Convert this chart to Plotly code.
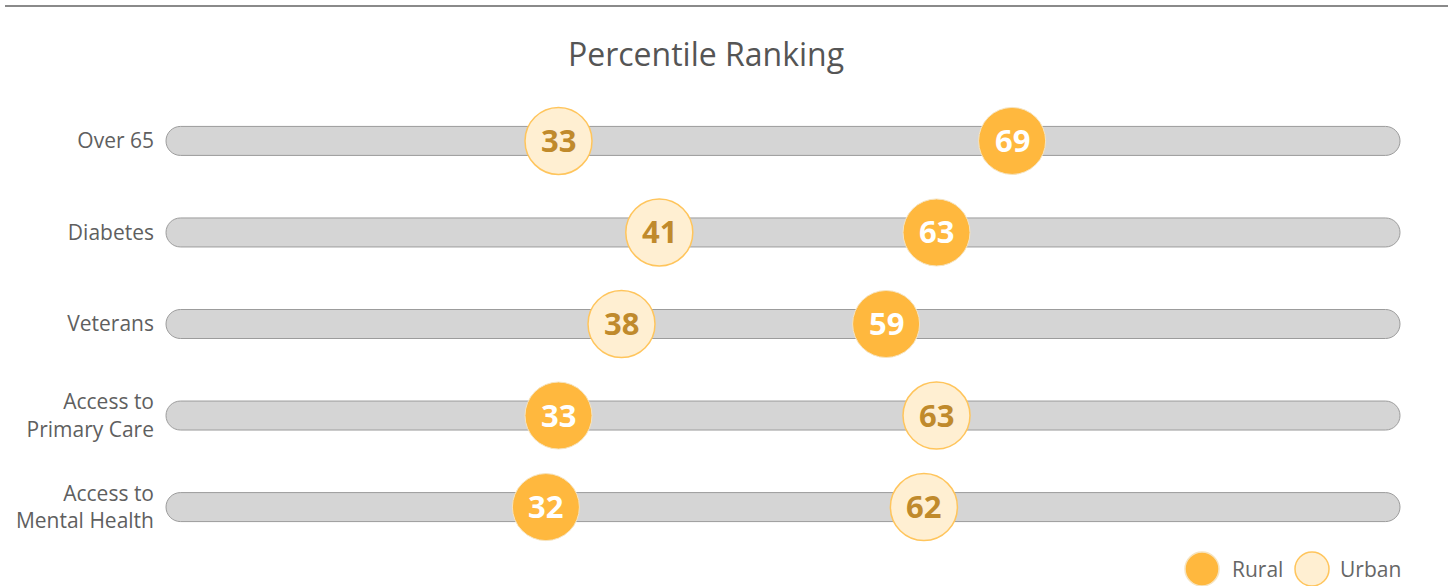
import plotly.graph_objects as go

# ---- data ----
categories = ["Over 65", "Diabetes", "Veterans", "Access to<br>Primary Care", "Access to<br>Mental Health"]
rural = [69, 63, 59, 33, 32]
urban = [33, 41, 38, 63, 62]
series_names = ["Rural", "Urban"]
title_text = "Percentile Ranking"

# ---- styling ----
W, H = 1448, 586
ML, MR, MT, MB = 166, 48, 86, 24
RURAL_FILL = "#FFB83E"
RURAL_LINE = "#F6E4C0"
URBAN_FILL = "#FFEFD2"
URBAN_LINE = "#FFC55C"
URBAN_TEXT = "#C08A2C"
FONT = "Open Sans"

plot_w = W - ML - MR
plot_h = H - MT - MB
n = len(categories)
yrange = [n - 1 + 0.6, -0.6]
px_per_y = plot_h / (yrange[0] - yrange[1])
rows = list(range(n))

fig = go.Figure()

# tracks (rounded bars behind points)
r = 14.5
rx = r / plot_w
ry = r / px_per_y
k = 0.5523
shapes = []
for yi in rows:
    x0, x1 = 0.0, 1.0
    t, b = yi - ry, yi + ry
    path = (
        f"M {x0+rx},{t} L {x1-rx},{t} "
        f"C {x1-rx+k*rx},{t} {x1},{yi-k*ry} {x1},{yi} "
        f"C {x1},{yi+k*ry} {x1-rx+k*rx},{b} {x1-rx},{b} "
        f"L {x0+rx},{b} "
        f"C {x0+rx-k*rx},{b} {x0},{yi+k*ry} {x0},{yi} "
        f"C {x0},{yi-k*ry} {x0+rx-k*rx},{t} {x0+rx},{t} Z"
    )
    shapes.append(dict(type="path", path=path, xref="paper", yref="y",
                       fillcolor="#D5D5D5", line=dict(color="#9C9C9C", width=1),
                       layer="below"))


def px_to_paper_x(p):
    return (p - ML) / plot_w


def px_to_paper_y(p):
    return (H - MB - p) / plot_h


# top separator line
shapes.append(dict(type="line", xref="paper", yref="paper",
                   x0=px_to_paper_x(5), x1=px_to_paper_x(W), y0=px_to_paper_y(6), y1=px_to_paper_y(6),
                   line=dict(color="#8A8A8A", width=2)))

fig.add_trace(go.Scatter(
    x=urban, y=rows, mode="markers", name=series_names[1],
    marker=dict(size=67, color=URBAN_FILL, line=dict(color=URBAN_LINE, width=1.5)),
    cliponaxis=False, showlegend=False,
))
fig.add_trace(go.Scatter(
    x=rural, y=rows, mode="markers", name=series_names[0],
    marker=dict(size=67, color=RURAL_FILL, line=dict(color=RURAL_LINE, width=1)),
    cliponaxis=False, showlegend=False,
))

annotations = []
# value labels centred in the bubbles
for vals, col in ((urban, URBAN_TEXT), (rural, "white")):
    for v, yi in zip(vals, rows):
        annotations.append(dict(text=f"<b>{v}</b>", x=v, y=yi, xref="x", yref="y",
                                xanchor="center", yanchor="middle", showarrow=False, yshift=1,
                                font=dict(family=FONT, size=31, color=col)))

# manual legend (large symbols)
leg_y = px_to_paper_y(569)
leg_items = [(series_names[0], 1202, 1230, RURAL_FILL, RURAL_LINE),
             (series_names[1], 1312, 1338, URBAN_FILL, URBAN_LINE)]
for name, cx, tx, fill, line in leg_items:
    shapes.append(dict(type="circle", xref="paper", yref="paper",
                       xsizemode="pixel", ysizemode="pixel",
                       xanchor=px_to_paper_x(cx), yanchor=leg_y,
                       x0=-17, x1=17, y0=-17, y1=17,
                       fillcolor=fill, line=dict(color=line, width=1.5)))
    annotations.append(dict(text=name, xref="paper", yref="paper",
                            x=px_to_paper_x(tx), y=leg_y, xanchor="left", yanchor="middle",
                            showarrow=False, font=dict(family=FONT, size=21, color="#666666")))

x_lo = (ML - 142.7) / 12.6
x_hi = (W - MR - 142.7) / 12.6

fig.update_layout(
    width=W, height=H,
    margin=dict(l=ML, r=MR, t=MT, b=MB),
    paper_bgcolor="white", plot_bgcolor="white",
    title=dict(text=title_text, xref="paper", x=px_to_paper_x(706), xanchor="center",
               yref="container", y=1 - 55 / H, yanchor="middle",
               font=dict(family=FONT, size=32, color="#555555")),
    xaxis=dict(range=[x_lo, x_hi], visible=False, fixedrange=True),
    yaxis=dict(range=yrange, tickvals=rows, ticktext=categories, showgrid=False,
               zeroline=False, showline=False, ticks="", ticklabelstandoff=11,
               tickfont=dict(family=FONT, size=21, color="#5F5F5F"), fixedrange=True),
    shapes=shapes, annotations=annotations,
    showlegend=False, hovermode=False,
)

fig.write_html("out.html", config={"displayModeBar": False},
               post_script="document.body.style.margin='0';document.body.style.overflow='hidden';")
